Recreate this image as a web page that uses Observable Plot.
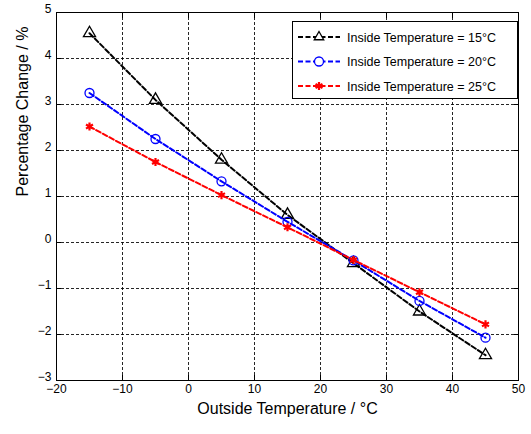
<!DOCTYPE html>
<html>
<head>
<meta charset="utf-8">
<script src="https://cdn.jsdelivr.net/npm/d3@7"></script>
<script src="https://cdn.jsdelivr.net/npm/@observablehq/plot@0.6"></script>
<style>
  html, body { margin: 0; padding: 0; background: #fff; }
  #wrap { position: relative; width: 531px; height: 434px; font-family: "Liberation Sans", Arial, sans-serif; }
  #legend { position: absolute; left: 292px; top: 21px; }
</style>
</head>
<body>
<div id="wrap"></div>
<script>
// ---- data ----
const outsideTemp = [-15, -5, 5, 15, 25, 35, 45];
const inside15 = [4.55, 3.1, 1.8, 0.6, -0.45, -1.5, -2.45];
const inside20 = [3.25, 2.25, 1.33, 0.45, -0.39, -1.27, -2.07];
const inside25 = [2.52, 1.75, 1.03, 0.33, -0.38, -1.08, -1.78];
const seriesNames = ["Inside Temperature = 15°C", "Inside Temperature = 20°C", "Inside Temperature = 25°C"];
const seriesColors = ["black", "blue", "red"];
const seriesSymbols = ["triangle", "circle", "asterisk"];
const xTicks = [-20, -10, 0, 10, 20, 30, 40, 50];
const yTicks = [-3, -2, -1, 0, 1, 2, 3, 4, 5];
const xLabel = "Outside Temperature / °C";
const yLabel = "Percentage Change / %";

const allSeries = [inside15, inside20, inside25];
const rows = [];
allSeries.forEach((vals, i) => vals.forEach((v, j) => rows.push({x: outsideTemp[j], y: v, s: seriesNames[i]})));

const gridStyle = {stroke: "black", strokeOpacity: 0.85, strokeWidth: 1, strokeDasharray: "3,2"};

const marks = [
  Plot.gridX(xTicks, gridStyle),
  Plot.gridY(yTicks, gridStyle),
  Plot.axisX(xTicks, {anchor: "bottom", tickSize: 0, tickPadding: 4, label: null, fontSize: 12}),
  Plot.axisX(xTicks, {anchor: "bottom", tickSize: -5, tickFormat: () => "", label: null}),
  Plot.axisX(xTicks, {anchor: "top", tickSize: -5, tickFormat: () => "", label: null}),
  Plot.axisY(yTicks, {anchor: "left", tickSize: 0, tickPadding: 5, dy: -3, label: null, fontSize: 12}),
  Plot.axisY(yTicks, {anchor: "left", tickSize: -5, tickFormat: () => "", label: null}),
  Plot.axisY(yTicks, {anchor: "right", tickSize: -5, tickFormat: () => "", label: null}),
  Plot.frame({stroke: "black", strokeWidth: 1}),
  Plot.text([xLabel], {frameAnchor: "bottom", dy: 33, fontSize: 16, fill: "black"}),
  Plot.text([yLabel], {frameAnchor: "left", dx: -34, rotate: -90, fontSize: 16, fill: "black"})
];
seriesNames.forEach((name, i) => {
  const d = rows.filter(r => r.s === name);
  const ast = seriesSymbols[i] === "asterisk";
  marks.push(Plot.line(d, {x: "x", y: "y", stroke: seriesColors[i], strokeWidth: 2, strokeDasharray: "5,2.5"}));
  marks.push(Plot.dot(d, {x: "x", y: "y", symbol: () => seriesSymbols[i], stroke: seriesColors[i], fill: "none", strokeWidth: ast ? 2.2 : 1.3, r: ast ? 3.8 : 4.5}));
});

const chart = Plot.plot({
  width: 531, height: 434,
  marginLeft: 56, marginRight: 13, marginTop: 12, marginBottom: 54,
  style: {fontFamily: '"Liberation Sans", Arial, sans-serif', fontSize: "12px", color: "black", background: "white"},
  x: {domain: [-20, 50]},
  y: {domain: [-3, 5]},
  symbol: {type: "identity"},
  marks
});
document.getElementById("wrap").appendChild(chart);

// ---- legend (overlay) ----
const lw = 226, lh = 78;
const leg = d3.select("#wrap").append("svg").attr("id", "legend").attr("width", lw).attr("height", lh)
  .style("font-family", '"Liberation Sans", Arial, sans-serif');
leg.append("rect").attr("x", 0.5).attr("y", 0.5).attr("width", lw - 1).attr("height", lh - 1)
  .attr("fill", "white").attr("stroke", "black");
seriesNames.forEach((name, i) => {
  const cy = 16 + i * 24.5;
  const ast = seriesSymbols[i] === "asterisk";
  const g = leg.append("g");
  g.append("line").attr("x1", 6).attr("x2", 48).attr("y1", cy).attr("y2", cy)
    .attr("stroke", seriesColors[i]).attr("stroke-width", 2).attr("stroke-dasharray", "5,2.5");
  const sym = d3.symbol().type({triangle: d3.symbolTriangle2, circle: d3.symbolCircle, asterisk: d3.symbolAsterisk}[seriesSymbols[i]]).size(ast ? 45 : 64);
  g.append("path").attr("d", sym()).attr("transform", `translate(27,${cy})`)
    .attr("fill", "white").attr("stroke", seriesColors[i]).attr("stroke-width", ast ? 2.2 : 1.3);
  g.append("text").attr("x", 55).attr("y", cy).attr("dy", "0.36em").attr("font-size", 12.5).attr("fill", "black").text(name);
});
</script>
</body>
</html>
